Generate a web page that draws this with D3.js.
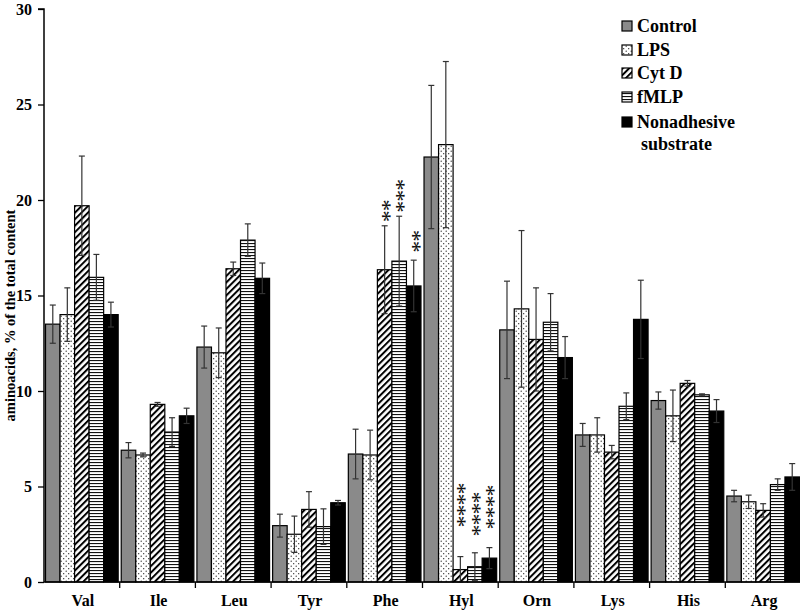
<!DOCTYPE html>
<html><head><meta charset="utf-8">
<script src="https://cdn.jsdelivr.net/npm/d3@7"></script>
<style>body{margin:0;background:#fff} svg text{font-family:'Liberation Serif','Times New Roman',Times,serif;}</style>
</head><body>
<svg id="c" width="800" height="611"></svg>
<script>
const categories = ["Val","Ile","Leu","Tyr","Phe","Hyl","Orn","Lys","His","Arg"];
const seriesNames = ["Control","LPS","Cyt D","fMLP","Nonadhesive substrate"];
const control   = [13.5, 6.9, 12.3, 2.95, 6.7, 22.25, 13.2, 7.7, 9.5, 4.5];
const lps       = [14.0, 6.65, 12.0, 2.5, 6.65, 22.9, 14.3, 7.7, 8.7, 4.2];
const cytD      = [19.7, 9.3, 16.4, 3.8, 16.35, 0.65, 12.7, 6.8, 10.4, 3.75];
const fmlp      = [15.95, 7.85, 17.9, 2.9, 16.8, 0.8, 13.6, 9.2, 9.8, 5.1];
const nonadh    = [14.0, 8.7, 15.9, 4.15, 15.5, 1.25, 11.75, 13.75, 8.95, 5.5];
const controlErr= [1.0, 0.4, 1.1, 0.6, 1.3, 3.75, 2.55, 0.6, 0.45, 0.3];
const lpsErr    = [1.4, 0.1, 1.3, 0.95, 1.3, 4.35, 4.1, 0.9, 1.35, 0.35];
const cytDErr   = [2.6, 0.1, 0.35, 0.93, 2.3, 0.68, 2.7, 0.35, 0.15, 0.35];
const fmlpErr   = [1.2, 0.75, 0.85, 0.93, 2.35, 0.73, 1.5, 0.7, 0.05, 0.3];
const nonadhErr = [0.65, 0.4, 0.8, 0.12, 1.35, 0.55, 1.1, 2.05, 0.6, 0.7];
const yTicks = [0,5,10,15,20,25,30];
const yLabel = "aminoacids, % of the total content";
// significance marks: category, series index, number of asterisks
const sigMarks = [
  {cat:"Phe", s:2, n:2}, {cat:"Phe", s:3, n:3}, {cat:"Phe", s:4, n:2},
  {cat:"Hyl", s:2, n:4}, {cat:"Hyl", s:3, n:4}, {cat:"Hyl", s:4, n:4}
];

const values = [control, lps, cytD, fmlp, nonadh];
const errs = [controlErr, lpsErr, cytDErr, fmlpErr, nonadhErr];

const svg = d3.select("#c");
const defs = svg.append("defs");
const pDots = defs.append("pattern").attr("id","pDots").attr("patternUnits","userSpaceOnUse").attr("width",5).attr("height",5);
pDots.append("rect").attr("width",5).attr("height",5).attr("fill","#fff");
pDots.append("circle").attr("cx",1.2).attr("cy",1.2).attr("r",0.65).attr("fill","#222");
pDots.append("circle").attr("cx",3.7).attr("cy",3.7).attr("r",0.65).attr("fill","#222");
const pDiag = defs.append("pattern").attr("id","pDiag").attr("patternUnits","userSpaceOnUse").attr("width",4.6).attr("height",4.6).attr("patternTransform","rotate(45)");
pDiag.append("rect").attr("width",4.6).attr("height",4.6).attr("fill","#fff");
pDiag.append("rect").attr("width",2).attr("height",4.6).attr("fill","#000");
const pHor = defs.append("pattern").attr("id","pHor").attr("patternUnits","userSpaceOnUse").attr("width",4).attr("height",3);
pHor.append("rect").attr("width",4).attr("height",3).attr("fill","#fff");
pHor.append("rect").attr("y",0).attr("width",4).attr("height",1.1).attr("fill","#111");
const fills = ["#8a8a8a","url(#pDots)","url(#pDiag)","url(#pHor)","#000"];

const x0 = 44, x1 = 801, yTop = 9, yBot = 582;
const x = d3.scaleBand().domain(categories).range([x0, x1]).paddingInner(0).paddingOuter(0);
const xs = d3.scaleBand().domain(d3.range(5)).range([0, x.bandwidth()]).paddingOuter(0.105).paddingInner(0);
const y = d3.scaleLinear().domain([0,30]).range([yBot, yTop]);

const font = "'Liberation Serif','Times New Roman',Times,serif";

const g = svg.append("g");
categories.forEach((c, ci) => {
  for (let s = 0; s < 5; s++) {
    const v = values[s][ci];
    g.append("rect")
      .attr("x", x(c) + xs(s)).attr("width", xs.bandwidth())
      .attr("y", y(v)).attr("height", y(0) - y(v))
      .attr("fill", fills[s]).attr("stroke","#000").attr("stroke-width",1.2);
  }
});
categories.forEach((c, ci) => {
  for (let s = 0; s < 5; s++) {
    const v = values[s][ci], e = errs[s][ci];
    const cx = x(c) + xs(s) + xs.bandwidth()/2;
    const col = "#333";
    g.append("line").attr("x1",cx).attr("x2",cx).attr("y1",y(v+e)).attr("y2",y(Math.max(0,v-e)))
      .attr("stroke",col).attr("stroke-width",1.2);
    [v+e, Math.max(0,v-e)].forEach(t => {
      g.append("line").attr("x1",cx-3).attr("x2",cx+3).attr("y1",y(t)).attr("y2",y(t))
        .attr("stroke",col).attr("stroke-width",1.2);
    });
  }
});

const yAxis = d3.axisLeft(y).tickValues(yTicks).tickSize(6).tickPadding(6);
const ya = svg.append("g").attr("transform",`translate(${x0},0)`).call(yAxis);
ya.attr("font-family", null);
ya.select(".domain").attr("stroke","#000").attr("stroke-width",1.5).attr("d",`M-6,${yTop}H0V${yBot}`);
ya.selectAll(".tick line").attr("stroke","#000").attr("stroke-width",1.3);
ya.selectAll(".tick text").style("font-family",font).attr("font-weight","bold").attr("font-size",16).attr("fill","#000");

const xa = svg.append("g").attr("transform",`translate(0,${yBot})`);
xa.append("line").attr("x1",x0).attr("x2",x1).attr("y1",0).attr("y2",0).attr("stroke","#000").attr("stroke-width",1.5);
categories.forEach((c,i) => {
  if (i > 0) xa.append("line").attr("x1",x(c)).attr("x2",x(c)).attr("y1",0).attr("y2",6).attr("stroke","#000").attr("stroke-width",1.3);
  xa.append("text").attr("x", x(c)+x.bandwidth()/2 + 1).attr("y", 24).attr("text-anchor","middle")
    .style("font-family",font).attr("font-weight","bold").attr("font-size",16).text(c);
});

svg.append("text").attr("transform",`translate(15,${(yTop+yBot)/2 + 20}) rotate(-90)`)
  .attr("text-anchor","middle").style("font-family",font).attr("font-weight","bold").attr("font-size",14.5).text(yLabel);

// significance asterisks: one rotated text per column (stacked bottom to top)
sigMarks.forEach(m => {
  const ci = categories.indexOf(m.cat);
  const v = values[m.s][ci], e = errs[m.s][ci];
  let cx = x(m.cat) + xs(m.s) + xs.bandwidth()/2;
  let lowest;
  if (m.cat === "Hyl") {
    lowest = [522, 531, 524][m.s - 2];
  } else {
    lowest = y(v+e) - 9;
    if (m.s === 4) { lowest = y(v+e) - 13; cx += 1; }
  }
  svg.append("text")
    .attr("transform", `translate(${cx},${lowest + 5.5}) rotate(-90)`)
    .attr("y", 0).attr("dy", "0.5em")
    .style("font-family", font).style("letter-spacing","-1px")
    .attr("font-size", 24).attr("fill", "#111")
    .text("*".repeat(m.n));
});

const lg = svg.append("g");
const legY = [26, 50, 73, 97, 122];
seriesNames.forEach((n, i) => {
  lg.append("rect").attr("x",622).attr("y",legY[i]-5).attr("width",10).attr("height",10)
    .attr("fill",fills[i]).attr("stroke","#000").attr("stroke-width",1.2);
  const label = i < 4 ? n : "Nonadhesive";
  lg.append("text").attr("x",637).attr("y",legY[i]+6).style("font-family",font).attr("font-weight","bold").attr("font-size",18).text(label);
  if (i === 4) {
    lg.append("text").attr("x",641).attr("y",legY[i]+28).style("font-family",font).attr("font-weight","bold").attr("font-size",18).text("substrate");
  }
});
</script>
</body></html>
